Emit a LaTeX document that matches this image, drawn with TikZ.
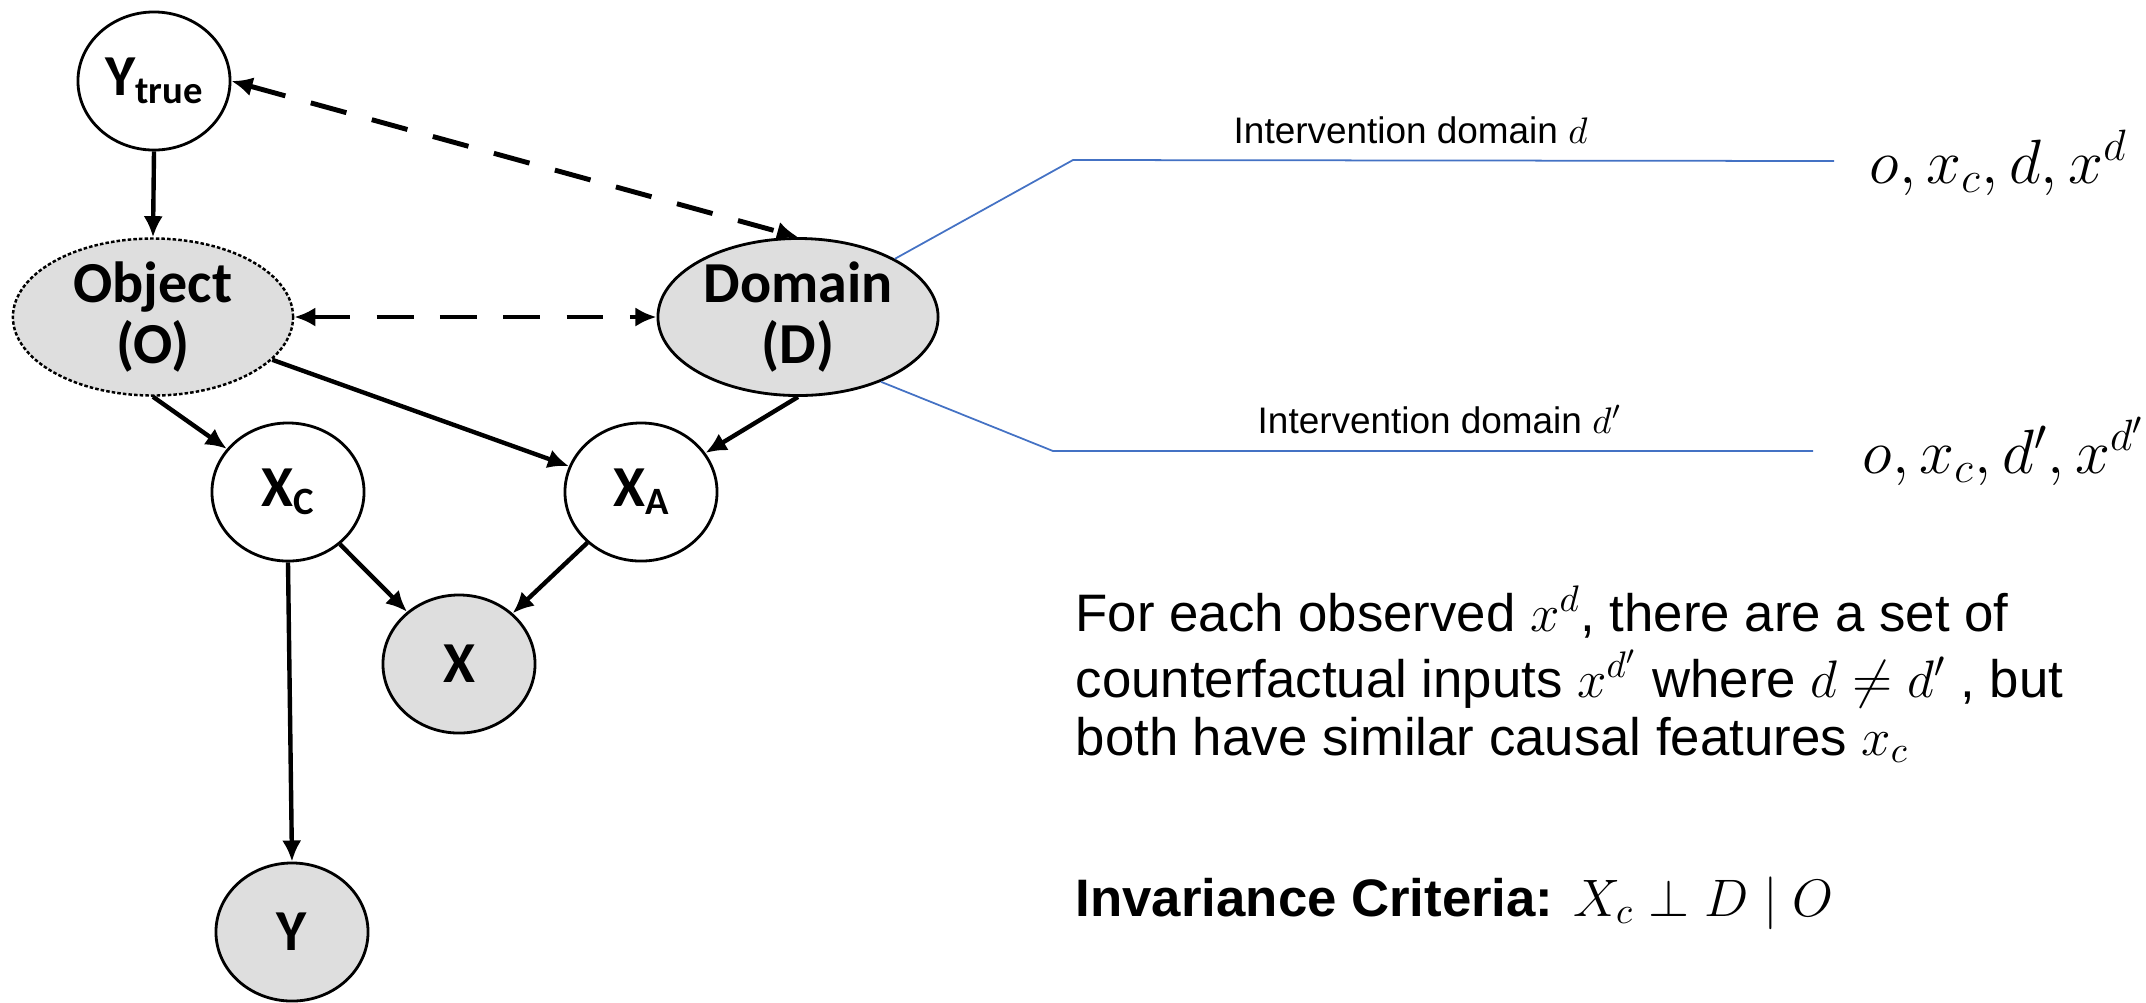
\RequirePackage{fix-cm}
\documentclass[tikz,border=0pt]{standalone}
\usepackage{fontspec}
\setmainfont{Liberation Sans}
\newfontfamily\nodefont{Carlito}
\usetikzlibrary{arrows.meta,shapes.geometric}
\definecolor{nodefill}{RGB}{222,222,222}
\definecolor{guide}{RGB}{68,114,196}

\newcommand{\bigsub}[2]{#1\raisebox{-2.2pt}{\fontsize{11pt}{12pt}\selectfont #2}}

\begin{document}
\begin{tikzpicture}[x=0.01cm,y=-0.01cm,
  rv/.style={ellipse, draw=black, line width=0.8pt, inner sep=0pt,
    minimum width=1.52cm, minimum height=1.38cm,
    font=\nodefont\bfseries\fontsize{16.5pt}{17.5pt}\selectfont, align=center},
  wide/.style={rv, minimum width=2.8cm},
  seen/.style={fill=nodefill},
  hidden/.style={dash pattern=on 1pt off 0.6pt, line width=0.7pt},
  causal/.style={-{Latex[length=6pt,width=5.5pt]}, line width=1.25pt},
  confound/.style={{Latex[length=6pt,width=5.5pt]}-{Latex[length=6pt,width=5.5pt]},
    line width=1.4pt, dash pattern=on 10.5pt off 7.5pt},
  guideline/.style={guide, line width=0.5pt},
  small/.style={anchor=base west, inner sep=0pt, font=\fontsize{10.5pt}{12pt}\selectfont},
  body/.style={anchor=base west, inner sep=0pt, font=\fontsize{15pt}{18pt}\selectfont},
  tuple/.style={anchor=base west, inner sep=0pt, font=\fontsize{17.8pt}{21pt}\selectfont}]

\useasboundingbox (0,0) rectangle (2146,1002);

% causal graph
\node[rv] (ytrue) at (154,81) {\bigsub{Y}{true}};
\node[wide, seen, hidden] (obj) at (153,317) {Object\\(O)};
\node[wide, seen] (dom) at (798,317) {Domain\\(D)};
\node[rv] (xc) at (288,492) {\bigsub{X}{C}};
\node[rv] (xa) at (641,492) {\bigsub{X}{A}};
\node[rv, seen] (x) at (459,664) {X};
\node[rv, seen] (y) at (292,932) {Y};

\draw[causal] (ytrue.south) -- (obj.north);
\draw[causal] (obj.south) -- (xc);
\draw[causal] (obj) -- (xa);
\draw[causal] (dom.south) -- (xa);
\draw[causal] (xc) -- (x);
\draw[causal] (xa) -- (x);
\draw[causal] (xc.south) -- (y.north);
\draw[confound] (obj.east) -- (dom.west);
\draw[confound] (ytrue.east) -- (dom.north);

% intervention guides
\coordinate (ua) at (1073,160);
\coordinate (ub) at (1834,161);
\coordinate (la) at (1053,451);
\coordinate (lb) at (1813,451);
\draw[guideline] (dom.31) -- (ua) -- (ub);
\draw[guideline] (dom.-38) -- (la) -- (lb);

\node[small] (lblup) at (1233,143) {Intervention domain $d$};
\node[small] (lbllow) at (1257,433) {Intervention domain $d'$};
\node[tuple] (tupup) at (1869,183) {$o, x_c, d, x^d$};
\node[tuple] (tuplow) at (1862,473) {$o, x_c, d', x^{d'}$};

% explanation
\node[body] (l1) at (1075,631) {For each observed $x^{d}$, there are a set of};
\node[body] (l2) at (1075,697) {counterfactual inputs $x^{d'}$ where $d \neq d'$ , but};
\node[body] (l3) at (1075,755) {both have similar causal features $x_{c}$};
\node[body] (crit) at (1075,916) {\textbf{Invariance Criteria:} $X_{c} \perp D \mid O$};
\end{tikzpicture}
\end{document}
